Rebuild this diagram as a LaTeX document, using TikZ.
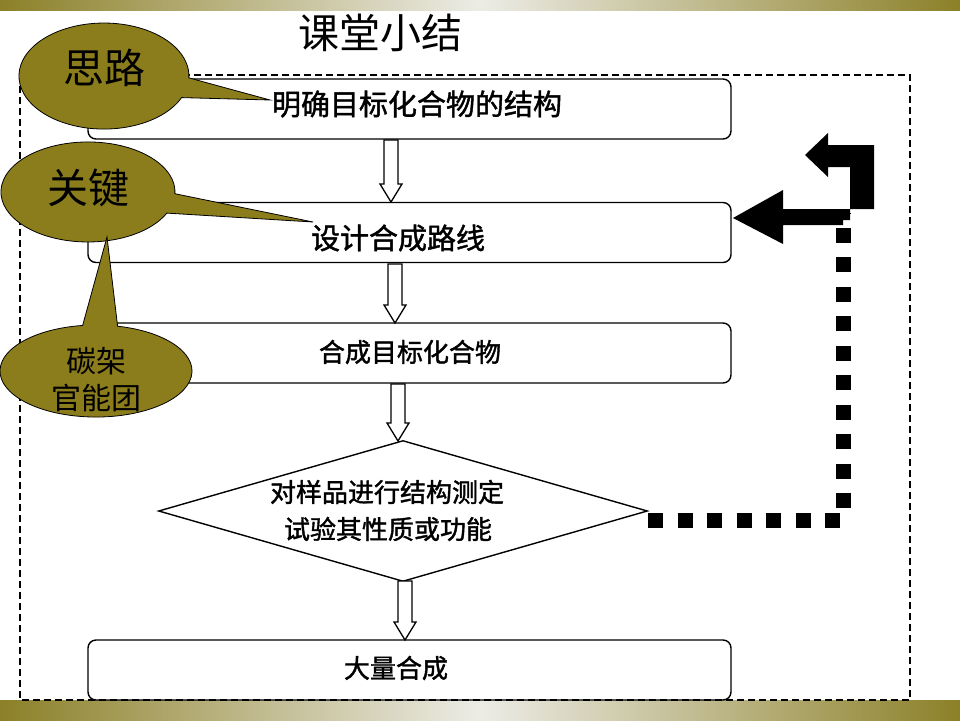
\documentclass[tikz,border=0pt]{standalone}
\usepackage{fontspec}
\newfontfamily\cjk{Noto Sans CJK SC}
\newfontfamily\cjkb[FakeBold=1.5]{Noto Sans CJK SC}
\usetikzlibrary{shapes.geometric}
\definecolor{olivefill}{RGB}{140,125,28}
\definecolor{barolive}{RGB}{140,128,40}
\definecolor{barlight}{RGB}{236,236,230}
\newcommand\harrow[3]{\draw[line width=1.3pt, fill=white] (#1-7,#2) -- (#1+7,#2) -- (#1+7,#3-18) -- (#1+11,#3-18) -- (#1,#3) -- (#1-11,#3-18) -- (#1-7,#3-18) -- cycle;}
\begin{document}
\begin{tikzpicture}[x=1pt,y=-1pt,
  box/.style={draw, line width=1.4pt, rounded corners=8pt, minimum width=643pt, minimum height=60pt, inner sep=0pt},
  btxt/.style={inner sep=0pt, font=\cjkb\fontsize{#1}{#1}\selectfont},
  ctxt/.style={inner sep=0pt, font=\cjk\fontsize{#1}{#1}\selectfont},
  callout/.style={fill=olivefill, draw=black, line width=0.8pt},
  dotline/.style={line width=15pt, dash pattern=on 15pt off 14.5pt},
  solidarrow/.style={fill=black}]
\useasboundingbox (0,0) rectangle (960,720);
% gradient bars
\shade[left color=barolive, right color=barolive, middle color=barlight] (0,0) rectangle (960,10);
\shade[left color=barolive, right color=barolive, middle color=barlight] (0,700) rectangle (960,720);
% title
\node[ctxt=41] (title) at (380,33) {课堂小结};
% dashed frame
\draw[line width=1.4pt, dash pattern=on 7pt off 4pt] (20,75) rectangle (910,700);
% boxes
\node[box] (b1) at (409.5,109) {};
\node[box] (b2) at (409.5,232.5) {};
\node[box] (b3) at (409.5,353) {};
\node[box] (b4) at (409.5,670) {};
\node[draw, line width=1.4pt, shape=diamond, minimum width=489pt, minimum height=141pt, inner sep=0pt] (d) at (403,511) {};
% hollow arrows
\harrow{391}{140}{202}
\harrow{395}{264}{323}
\harrow{398}{384}{441}
\harrow{405}{581}{640}
% dotted connector
\draw[dotline] ([yshift=-9pt]d.east) -- (843,520) -- (843,213);
% solid arrows
\fill[solidarrow] (874,209) -- (874,145) -- (828,145) -- (828,133) -- (805,155) -- (828,177) -- (828,167) -- (850,167) -- (850,209) -- cycle;
\fill[solidarrow] (850,209) -- (783,209) -- (783,190) -- (733,218) -- (783,244) -- (783,225) -- (843,225) -- (843,220) -- (850,220) -- cycle;
% callouts
\filldraw[callout] (270,100) -- (181.6,97.6) arc[start angle=24, end angle=362, x radius=85, y radius=53] -- cycle;
\filldraw[callout] (313,222) -- (166.8,213.1) arc[start angle=25, end angle=362, x radius=87, y radius=50] -- cycle;
\filldraw[callout] (107,237) -- (117.6,326.2) arc[start angle=283, end angle=622, x radius=96, y radius=46] -- cycle;
\node[ctxt=41] (c1) at (104,68) {思路};
\node[ctxt=41] (c2) at (88,188) {关键};
\node[ctxt=30] (c3a) at (96,361) {碳架};
\node[ctxt=30] (c3b) at (96,398) {官能团};
% box texts
\node[btxt=29] (t1) at (417,104) {明确目标化合物的结构};
\node[btxt=29] (t2) at (398,238) {设计合成路线};
\node[btxt=26] (t3) at (410,352) {合成目标化合物};
\node[btxt=26] (t5) at (387,492) {对样品进行结构测定};
\node[btxt=26] (t6) at (388,529) {试验其性质或功能};
\node[btxt=26] (t4) at (396,668) {大量合成};
\end{tikzpicture}
\end{document}
